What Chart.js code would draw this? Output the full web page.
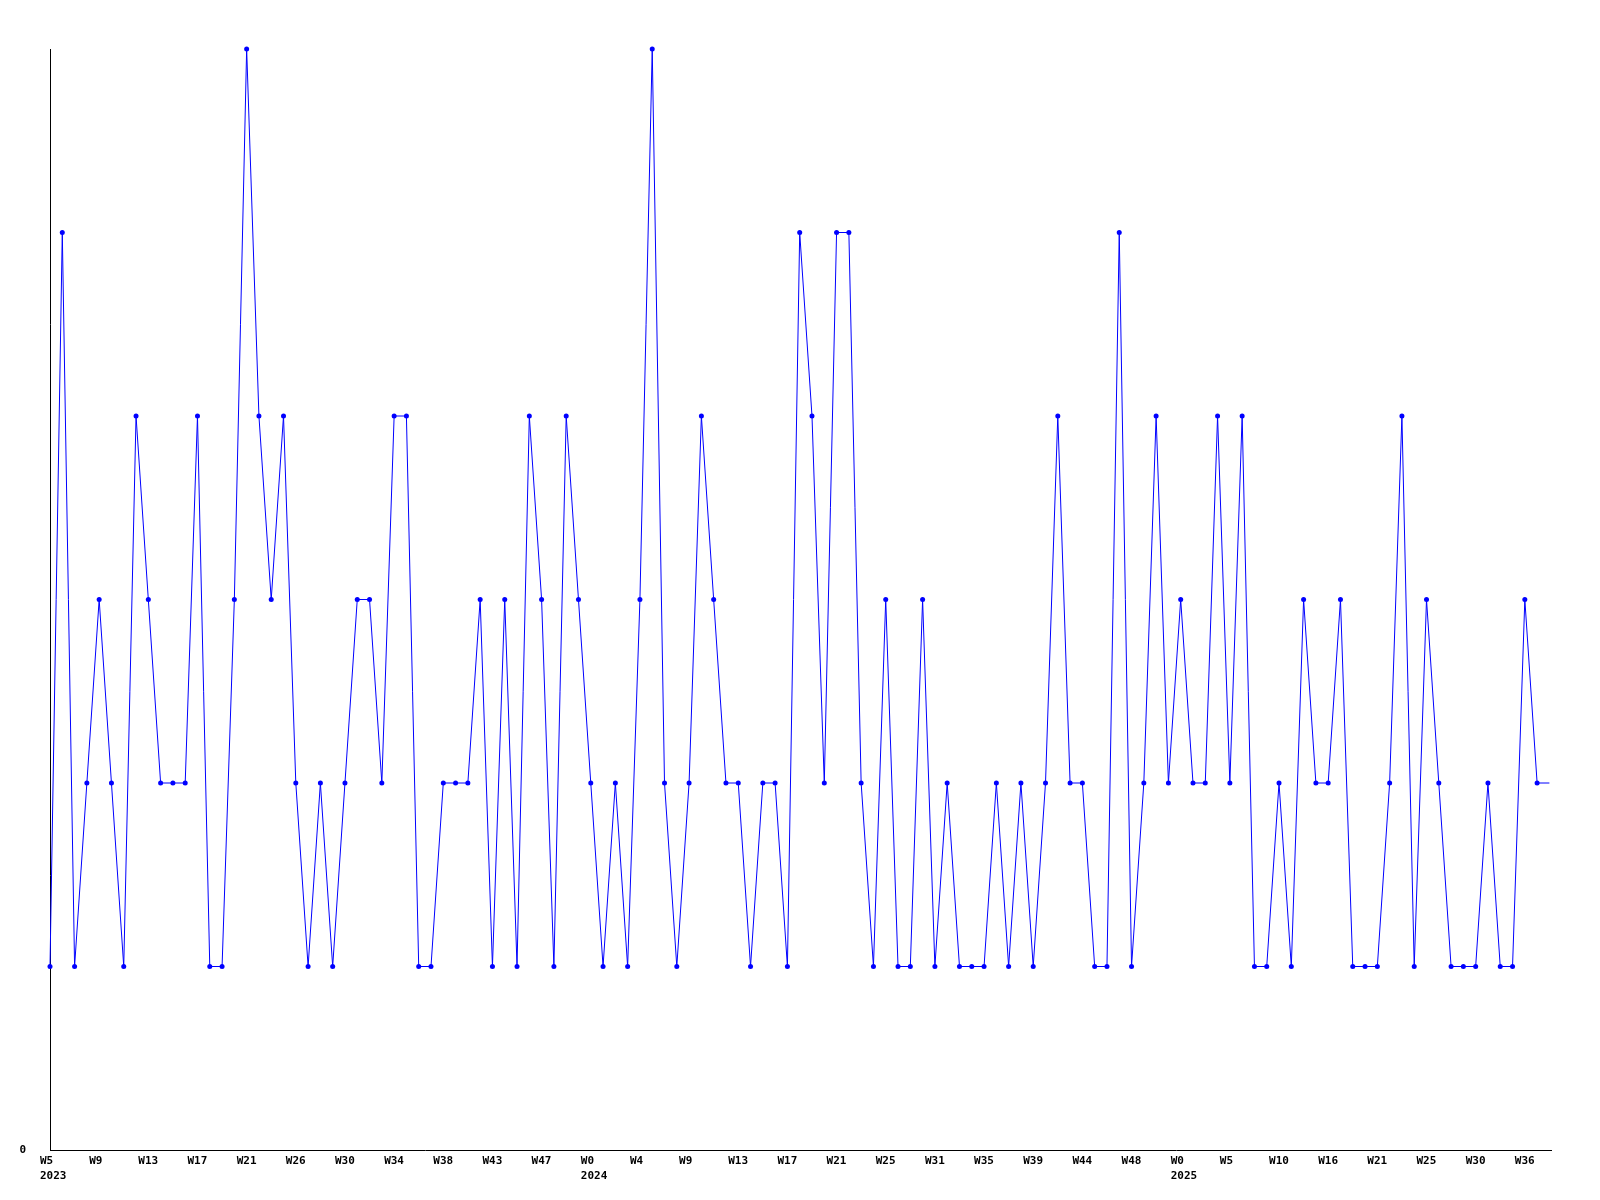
<!DOCTYPE html>
<html lang="en">
<head>
  <meta charset="UTF-8" />
  <title>Weekly counts</title>
  <style>
    html, body { margin: 0; padding: 0; background: #fff; }
    canvas { display: block; }
  </style>
</head>
<body>
  <canvas id="weekChart" width="1600" height="1200"></canvas>

  <script src="https://cdn.jsdelivr.net/npm/chart.js"></script>
  <script>
    // one value per week, W5 2023 onwards; the last one is the unfinished week (no marker)
    const weeklyValues = [
      1, 5, 1, 2, 3, 2, 1, 4, 3, 2, 2, 2, 4, 1, 1, 3, 6, 4, 3, 4,
      2, 1, 2, 1, 2, 3, 3, 2, 4, 4, 1, 1, 2, 2, 2, 3, 1, 3, 1, 4,
      3, 1, 4, 3, 2, 1, 2, 1, 3, 6, 2, 1, 2, 4, 3, 2, 2, 1, 2, 2,
      1, 5, 4, 2, 5, 5, 2, 1, 3, 1, 1, 3, 1, 2, 1, 1, 1, 2, 1, 2,
      1, 2, 4, 2, 2, 1, 1, 5, 1, 2, 4, 2, 3, 2, 2, 4, 2, 4, 1, 1,
      2, 1, 3, 2, 2, 3, 1, 1, 1, 2, 4, 1, 3, 2, 1, 1, 1, 2, 1, 1,
      3, 2, 2
    ];
    const weekIndex = weeklyValues.map((v, i) => i);

    // a label every 4th week
    const weekTicks = ['W5', 'W9', 'W13', 'W17', 'W21', 'W26', 'W30', 'W34', 'W38', 'W43', 'W47',
      'W0', 'W4', 'W9', 'W13', 'W17', 'W21', 'W25', 'W31', 'W35', 'W39', 'W44', 'W48',
      'W0', 'W5', 'W10', 'W16', 'W21', 'W25', 'W30', 'W36'];
    const yearTicks = ['2023', '2024', '2025'];
    const yearTickAt = [0, 11, 23];
    const tickEvery = 4;

    const ctx = document.getElementById('weekChart').getContext('2d');
    const tickFont = { family: "'DejaVu Sans Mono', monospace", size: 11, weight: 'bold', lineHeight: '15px' };

    new Chart(ctx, {
      type: 'line',
      data: {
        datasets: [{
          data: weekIndex.map(i => ({ x: i, y: weeklyValues[i] })),
          borderColor: '#0000ff',
          backgroundColor: '#0000ff',
          borderWidth: 1,
          pointRadius: c => (c.dataIndex === weeklyValues.length - 1 ? 0 : 2.5),
          pointHoverRadius: 2.5,
          pointBorderWidth: 0,
          tension: 0,
          fill: false,
          clip: false
        }]
      },
      options: {
        responsive: false,
        animation: false,
        parsing: false,
        layout: { padding: { top: 49, right: 49, left: 0, bottom: 0 } },
        plugins: {
          legend: { display: false },
          tooltip: { enabled: false }
        },
        scales: {
          x: {
            type: 'linear',
            min: 0,
            max: weeklyValues.length - 1 + 0.13,
            grid: { display: false, drawTicks: false },
            border: { display: true, color: '#000', width: 1 },
            afterFit: s => { s.height = 50; },
            afterBuildTicks: s => {
              s.ticks = weekTicks.map((w, t) => ({ value: t * tickEvery }));
            },
            ticks: {
              autoSkip: false,
              maxRotation: 0,
              minRotation: 0,
              align: 'start',
              labelOffset: -10,
              padding: 4,
              color: '#000',
              font: tickFont,
              callback: val => {
                const t = Math.round(val / tickEvery);
                const k = yearTickAt.indexOf(t);
                return k >= 0 ? [weekTicks[t], yearTicks[k]] : weekTicks[t];
              }
            }
          },
          y: {
            min: 0,
            max: 6,
            grid: { display: false, drawTicks: false },
            border: { display: true, color: '#000', width: 1 },
            afterFit: s => { s.width = 50; },
            ticks: {
              stepSize: 1,
              padding: 24,
              color: '#000',
              font: tickFont,
              callback: v => (v === 0 ? '0' : '')
            }
          }
        }
      }
    });
  </script>
</body>
</html>
